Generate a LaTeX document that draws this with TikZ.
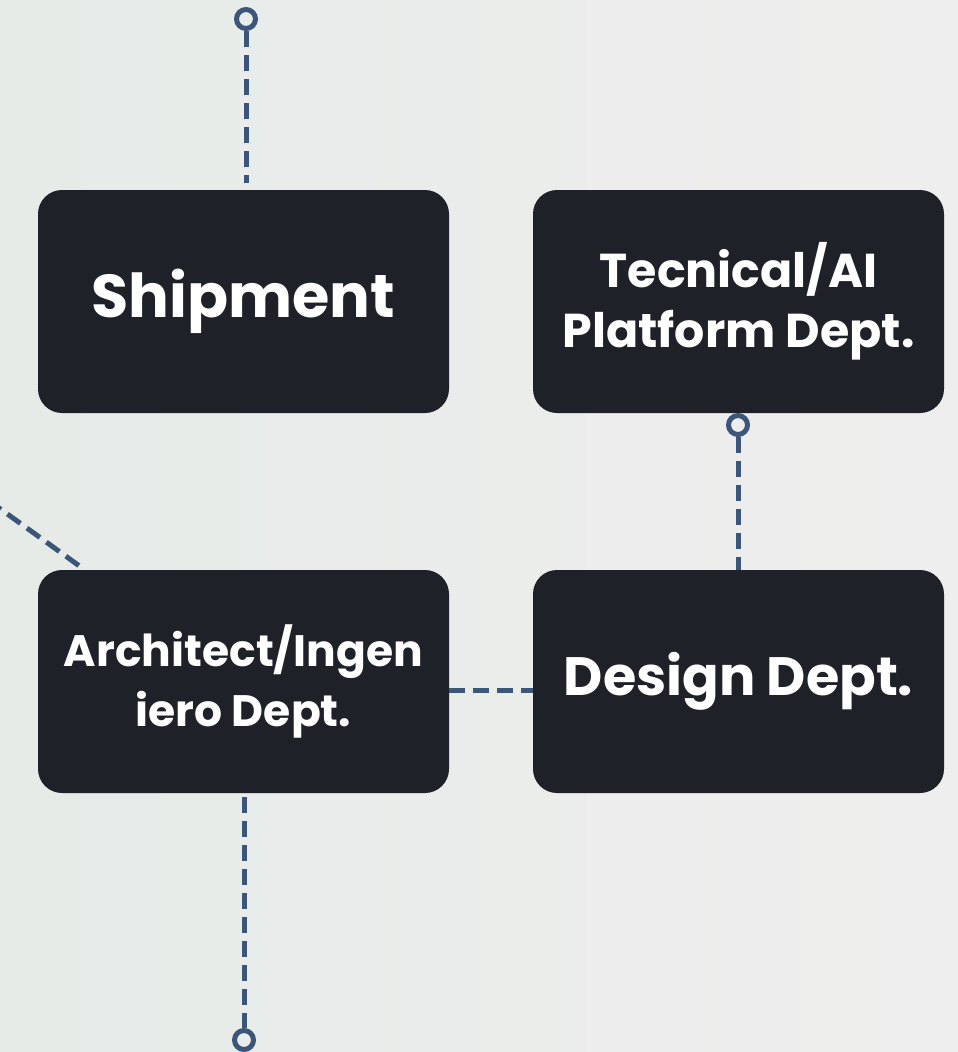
\documentclass[tikz,border=0pt]{standalone}
\usepackage{fontspec}
\setmainfont{Poppins}
\definecolor{boxc}{HTML}{1F2129}
\definecolor{linec}{HTML}{3B5679}
\definecolor{bgl}{HTML}{E6EBE8}
\definecolor{bgr}{HTML}{EFEEEE}
\tikzset{
  deptbox/.style={fill=boxc, rounded corners=24pt, minimum width=411pt, minimum height=223pt, inner sep=0pt, text=white, align=center, font=\bfseries},
  conn/.style={draw=linec, line width=5pt, dash pattern=on 16pt off 8pt},
  endring/.style={circle, draw=linec, line width=5pt, minimum size=19pt, inner sep=0pt, fill=none}
}
\begin{document}
\begin{tikzpicture}[x=1pt,y=-1pt]
\shade[left color=bgl, right color=bgr] (0,0) rectangle (958,1052);
\useasboundingbox (0,0) rectangle (958,1052);
\node[deptbox, font=\bfseries\fontsize{60.5}{68}\selectfont] (ship) at (243.5,301.5) {Shipment};
\node[deptbox, font=\bfseries\fontsize{47.5}{60}\selectfont] (tech) at (738.5,301.5) {Tecnical/AI\\Platform Dept.};
\node[deptbox, font=\bfseries\fontsize{44}{60}\selectfont] (arch) at (243.5,681.5) {Architect/Ingen\\iero Dept.};
\node[deptbox, font=\bfseries\fontsize{54}{62}\selectfont] (design) at (738.5,681.5) {Design Dept.};
\node[endring] (ringtop) at (246,19) {};
\node[endring] (ringtech) at (738,425) {};
\node[endring] (ringbot) at (244,1040) {};
\coordinate (offleft) at (-12,500);
\coordinate (shiptop) at (246,183);
\draw[conn] (ringtop.south) -- (shiptop);
\draw[conn] (ringtech.south) -- (738,570);
\draw[conn] (244,797) -- (ringbot.north);
\draw[conn] (arch.east |- 0,690) -- (design.west |- 0,690);
\draw[conn] (offleft) -- (85,570);
\end{tikzpicture}
\end{document}
